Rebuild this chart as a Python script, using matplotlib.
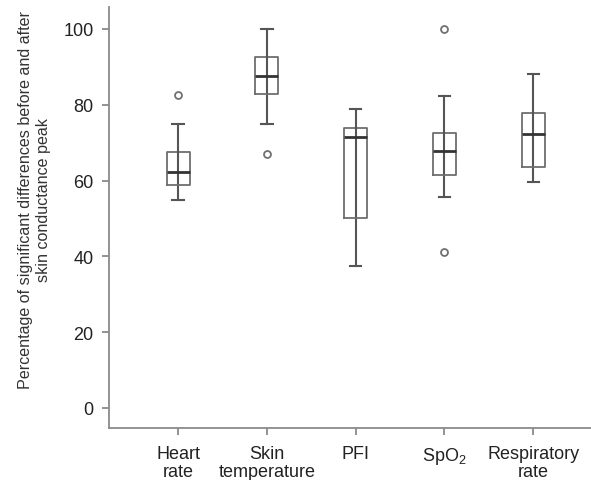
import matplotlib
matplotlib.use("Agg")
import matplotlib.pyplot as plt

plt.rcParams['font.family'] = ['Liberation Sans', 'DejaVu Sans']
plt.rcParams['mathtext.fontset'] = 'custom'
plt.rcParams['mathtext.rm'] = 'Liberation Sans'
plt.rcParams['mathtext.it'] = 'Liberation Sans:italic'

categories = ["Heart\nrate", "Skin\ntemperature", "PFI", "SpO$_2$", "Respiratory\nrate"]
whisker_low = [54.9, 75.0, 37.5, 55.7, 59.7]
q1 = [58.8, 82.8, 50.0, 61.5, 63.5]
median = [62.2, 87.5, 71.6, 67.9, 72.2]
q3 = [67.6, 92.5, 73.8, 72.5, 77.8]
whisker_high = [74.9, 100.0, 79.0, 82.4, 88.2]
outliers = [[82.6], [66.9], [], [100.0, 41.1], []]

stats = []
for i in range(len(categories)):
    stats.append(dict(med=median[i], q1=q1[i], q3=q3[i],
                      whislo=whisker_low[i], whishi=whisker_high[i],
                      fliers=outliers[i], label=categories[i]))

fig = plt.figure(figsize=(5.91, 4.81), dpi=100)
ax = fig.add_axes([109/591, 52/481, 1 - 109/591, (429-8)/481])

res = ax.bxp(stats, positions=range(1, 6), widths=0.26, showfliers=True,
             boxprops=dict(color='#6e6e6e', linewidth=1.3),
             whiskerprops=dict(color='#555555', linewidth=1.5),
             capprops=dict(color='#555555', linewidth=1.5),
             medianprops=dict(color='#333333', linewidth=2.0),
             flierprops=dict(marker='o', markersize=5, markerfacecolor='none',
                             markeredgecolor='#707070', markeredgewidth=1.3))

# whisker line runs through the whole box, as in the reference
for i, line in enumerate(res['whiskers'][0::2]):
    line.set_ydata([q3[i], whisker_low[i]])
    line.set_zorder(1.5)

ax.set_xlim(0.222, 5.65)
ax.set_ylim(-5.3, 105.8)
ax.set_yticks([0, 20, 40, 60, 80, 100])
ax.set_xticks(range(1, 6))
ax.set_xticklabels(categories, fontsize=13, color='#222222', linespacing=1.1)
ax.tick_params(axis='y', labelsize=13, labelcolor='#222222', color='#808080',
               length=5, width=1.2, pad=6)
ax.tick_params(axis='x', color='#808080', length=5, width=1.2, pad=7)
for s in ['top', 'right']:
    ax.spines[s].set_visible(False)
for s in ['left', 'bottom']:
    ax.spines[s].set_color('#8a8a8a')
    ax.spines[s].set_linewidth(1.3)

ax.set_ylabel("Percentage of significant differences before and after\nskin conductance peak",
              fontsize=11.6, color='#333333', linespacing=1.25)
ax.yaxis.set_label_coords(-0.12, 0.544)

fig.savefig("out.png", dpi=100)
